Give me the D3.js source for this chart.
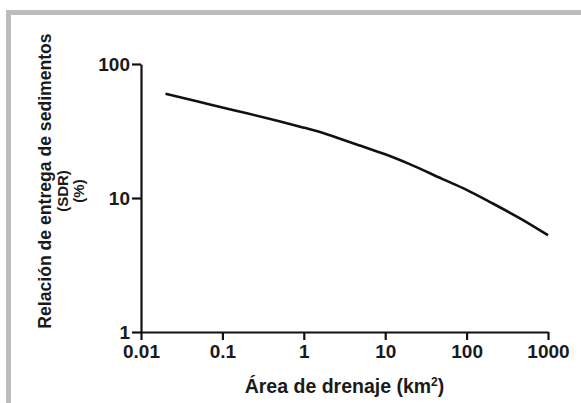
<!DOCTYPE html>
<html>
<head>
<meta charset="utf-8">
<script src="https://cdn.jsdelivr.net/npm/d3@7/dist/d3.min.js"></script>
<style>
  body { margin: 0; background: #fff; }
  text { font-family: "Liberation Sans", Arial, sans-serif; font-weight: bold; fill: #1a1a1a; }
</style>
</head>
<body>
<div id="chart"></div>
<script>
//####################### Data ##########################
var areaKm2 = [0.02, 0.05, 0.1, 0.2, 0.5, 1, 2, 5, 10, 20, 50, 100, 200, 500, 1000];
var sdrPercent = [59.9, 52.5, 47.4, 42.9, 37.4, 33.5, 29.7, 24.5, 21.2, 17.9, 13.9, 11.5, 9.24, 6.81, 5.27];
var xTicks = [0.01, 0.1, 1, 10, 100, 1000];
var yTicks = [1, 10, 100];
var xTickLabels = ["0.01", "0.1", "1", "10", "100", "1000"];
var yTickLabels = ["1", "10", "100"];

//####################### Chart ##########################
var width = 581;
var height = 403;

var svg = d3.select("#chart").append("svg")
	.attr("width", width)
	.attr("height", height);

//gray frame (top and left visible)
svg.append("rect")
	.attr("x", 8.5).attr("y", 12.5)
	.attr("width", width + 20).attr("height", height + 20)
	.attr("fill", "none")
	.attr("stroke", "#bcbcbc")
	.attr("stroke-width", 5);

var xscale = d3.scaleLog().domain([0.01, 1000]).range([141, 548]);
var yscale = d3.scaleLog().domain([1, 100]).range([332, 64]);

var xaxis = d3.axisBottom(xscale).tickValues(xTicks)
	.tickFormat(function(d, i) { return xTickLabels[i]; })
	.tickSize(8).tickSizeOuter(0).tickPadding(5);
var yaxis = d3.axisLeft(yscale).tickValues(yTicks)
	.tickFormat(function(d, i) { return yTickLabels[i]; })
	.tickSize(9).tickSizeOuter(0).tickPadding(2);

var gx = svg.append("g").attr("class", "xaxis")
	.attr("transform", "translate(0," + yscale(1) + ")")
	.call(xaxis);
var gy = svg.append("g").attr("class", "yaxis")
	.attr("transform", "translate(" + xscale(0.01) + ",0)")
	.call(yaxis);

svg.selectAll(".domain, .tick line")
	.attr("stroke", "#111")
	.attr("stroke-width", 2.2);
gx.selectAll(".tick text").style("font-size", "19px").attr("font-family", null).attr("fill", null);
gy.selectAll(".tick text").style("font-size", "19px").attr("font-family", null).attr("fill", null);

//curve
var line = d3.line()
	.x(function(d) { return xscale(d[0]); })
	.y(function(d) { return yscale(d[1]); })
	.curve(d3.curveMonotoneX);

svg.append("path")
	.datum(areaKm2.map(function(a, i) { return [a, sdrPercent[i]]; }))
	.attr("fill", "none")
	.attr("stroke", "#111")
	.attr("stroke-width", 2.6)
	.attr("d", line);

//axis titles
var xlabel = svg.append("text")
	.attr("x", (xscale.range()[0] + xscale.range()[1]) / 2)
	.attr("y", 393)
	.attr("text-anchor", "middle")
	.style("font-size", "19.5px");
xlabel.append("tspan").text("Área de drenaje (km");
xlabel.append("tspan").attr("dy", -7).style("font-size", "12px").text("2");
xlabel.append("tspan").attr("dy", 7).text(")");

svg.append("text")
	.attr("transform", "translate(51,181) rotate(-90)")
	.attr("text-anchor", "middle")
	.style("font-size", "17.6px")
	.text("Relación de entrega de sedimentos");
svg.append("text")
	.attr("transform", "translate(68,191) rotate(-90)")
	.attr("text-anchor", "middle")
	.style("font-size", "15px")
	.text("(SDR)");
svg.append("text")
	.attr("transform", "translate(84,191) rotate(-90)")
	.attr("text-anchor", "middle")
	.style("font-size", "15px")
	.text("(%)");
</script>
</body>
</html>
